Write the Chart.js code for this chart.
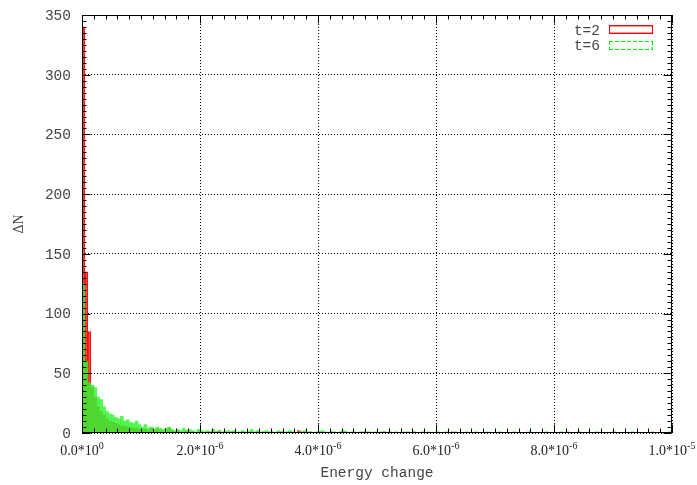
<!DOCTYPE html>
<html>
<head>
<meta charset="utf-8">
<script src="https://cdn.jsdelivr.net/npm/chart.js@4/dist/chart.umd.min.js"></script>
<style>
  html, body { margin: 0; padding: 0; background: #fff; }
  #wrap { width: 697px; height: 485px; }
</style>
</head>
<body>
<div id="wrap"><canvas id="hist" width="697" height="485"></canvas></div>
<script>
// histogram bins: width 5e-8, 200 bins covering 0 .. 1e-5
const binWidth = 5e-8;

const countsT2 = [
  340,135,85,38,30,22,18,15,12,10,9,8,7,6,6,5,5,4,4,3,
  3,3,2,4,2,3,2,1,2,4,2,1,2,1,1,2,1,1,0,1,
  1,0,1,1,0,1,2,0,1,0,1,1,0,0,1,0,1,0,0,1,
  0,1,0,0,1,0,0,1,0,0,1,0,0,2,1,0,0,1,0,0,
  1,0,0,0,1,0,0,0,0,1,0,0,0,0,0,1,0,0,0,0,
  0,0,1,0,0,0,0,0,0,0,0,0,1,0,0,0,0,0,0,0,
  0,0,0,0,0,1,0,0,0,0,0,0,0,0,0,0,0,0,0,0,
  0,0,0,0,0,0,0,0,0,0,0,0,0,0,0,0,0,0,0,0,
  0,0,0,0,1,0,0,0,0,0,0,0,0,0,0,0,0,0,0,0,
  0,0,0,0,0,0,0,0,0,0,0,0,0,0,0,0,0,0,0,0
];

const countsT6 = [
  125,60,42,40,38,30,28,22,18,16,15,13,12,14,10,11,9,8,10,7,
  5,7,4,5,3,5,4,3,4,5,3,2,3,2,4,2,3,2,1,3,
  2,1,2,1,3,1,2,1,1,2,1,2,1,1,2,1,1,3,1,2,
  1,1,2,1,1,0,2,1,1,1,2,1,0,1,1,2,1,1,0,1,
  1,2,1,0,1,1,0,1,2,1,0,1,1,0,1,0,1,1,0,1,
  0,1,1,0,1,0,1,0,0,1,1,0,1,0,0,1,0,1,0,0,
  1,0,0,1,0,0,1,0,0,0,1,0,0,1,0,0,0,1,0,0,
  0,1,0,0,0,0,1,0,0,0,0,1,0,0,0,0,0,1,0,0,
  0,0,1,0,0,0,0,0,1,0,0,0,0,0,1,0,0,0,0,0,
  1,0,0,0,0,0,1,0,0,0,0,0,0,1,0,0,0,0,0,1
];

const seriesNames = ['t=2', 't=6'];
const xTickMantissa = ['0.0*10', '2.0*10', '4.0*10', '6.0*10', '8.0*10', '1.0*10'];
const xTickExponent = ['0', '-6', '-6', '-6', '-6', '-5'];
const yTickLabels = ['0', '50', '100', '150', '200', '250', '300', '350'];

const RED = '#ff0000';
const GREEN = '#00ee00';
const TEXT = '#444444';
const MONO = '"Liberation Mono", "DejaVu Sans Mono", monospace';
const SERIF = '"Liberation Serif", "DejaVu Serif", serif';

function toPoints(counts) {
  return counts.map((c, i) => ({ x: (i + 0.5) * binWidth, y: c }));
}

// frame, inward ticks, labels and key, in gnuplot style
const frameAndLabels = {
  id: 'frameAndLabels',
  afterDatasetsDraw(chart) {
    const { ctx, chartArea: a, scales } = chart;
    const xs = scales.x, ys = scales.y;
    const L = Math.round(a.left) + 0.5, R = Math.round(a.right) - 0.5;
    const T = Math.round(a.top) + 0.5, B = Math.round(a.bottom) - 0.5;
    ctx.save();
    ctx.strokeStyle = '#000';
    ctx.lineWidth = 1;
    ctx.setLineDash([]);
    ctx.beginPath();
    // x ticks: major every 2e-6, minor every 2e-7
    for (let k = 0; k <= 50; k++) {
      const px = Math.round(xs.getPixelForValue(k * 2e-7)) + 0.5;
      const len = k % 10 === 0 ? 8 : 4;
      ctx.moveTo(px, B); ctx.lineTo(px, B - len);
      ctx.moveTo(px, T); ctx.lineTo(px, T + len);
    }
    // y ticks: major every 50, minor every 5
    for (let k = 0; k <= 70; k++) {
      const py = Math.round(ys.getPixelForValue(k * 5)) + 0.5;
      const len = k % 10 === 0 ? 8 : 4;
      ctx.moveTo(L, py); ctx.lineTo(L + len, py);
      ctx.moveTo(R, py); ctx.lineTo(R - len, py);
    }
    ctx.stroke();
    ctx.strokeRect(L, T, R - L, B - T);

    // y tick labels
    ctx.fillStyle = TEXT;
    ctx.font = '14.5px ' + MONO;
    ctx.textAlign = 'right';
    ctx.textBaseline = 'middle';
    yTickLabels.forEach((lab, i) => {
      ctx.fillText(lab, a.left - 11, ys.getPixelForValue(i * 50) + 1);
    });

    // x tick labels with raised exponent
    ctx.fillStyle = '#222';
    ctx.textAlign = 'left';
    ctx.textBaseline = 'alphabetic';
    xTickMantissa.forEach((m, i) => {
      const px = xs.getPixelForValue(i * 2e-6);
      ctx.font = '14px ' + SERIF;
      const wm = ctx.measureText(m).width;
      ctx.font = '10px ' + SERIF;
      const we = ctx.measureText(xTickExponent[i]).width;
      const x0 = px - (wm + we) / 2;
      ctx.font = '14px ' + SERIF;
      ctx.fillText(m, x0, 455);
      ctx.font = '10px ' + SERIF;
      ctx.fillText(xTickExponent[i], x0 + wm, 449);
    });

    // axis titles
    ctx.fillStyle = TEXT;
    ctx.font = '14.5px ' + MONO;
    ctx.textAlign = 'center';
    ctx.fillText('Energy change', (a.left + a.right) / 2, 477);
    ctx.save();
    ctx.translate(19, (a.top + a.bottom) / 2);
    ctx.rotate(-Math.PI / 2);
    ctx.textBaseline = 'middle';
    ctx.font = '14px ' + SERIF;
    ctx.fillText('ΔN', 0, 0);
    ctx.restore();

    // key
    ctx.font = '14.5px ' + MONO;
    ctx.textAlign = 'right';
    ctx.fillText(seriesNames[0], 600, 34.5);
    ctx.fillText(seriesNames[1], 600, 50);
    // red sample box, solid edges
    ctx.fillStyle = 'rgb(255,150,150)';
    ctx.fillRect(610, 26, 42, 1);
    ctx.fillRect(610, 32, 42, 1);
    ctx.fillStyle = RED;
    ctx.fillRect(609, 25, 44, 1);
    ctx.fillRect(609, 33, 44, 1);
    ctx.fillRect(609, 25, 1, 9);
    ctx.fillRect(652, 25, 1, 9);
    // green sample box, dashed edges
    ctx.fillStyle = GREEN;
    for (let x = 609; x < 653; x += 6) {
      const w = Math.min(4, 653 - x);
      ctx.fillRect(x, 41, w, 1);
      ctx.fillRect(x, 49, w, 1);
    }
    for (let y = 41; y < 50; y += 6) {
      const h = Math.min(4, 50 - y);
      ctx.fillRect(609, y, 1, h);
      ctx.fillRect(652, y, 1, h);
    }
    ctx.restore();
  }
};

new Chart(document.getElementById('hist'), {
  type: 'bar',
  data: {
    datasets: [
      {
        label: seriesNames[0],
        data: toPoints(countsT2),
        backgroundColor: 'rgba(255,70,70,0.85)',
        borderColor: RED,
        borderWidth: 1,
        order: 2
      },
      {
        label: seriesNames[1],
        data: toPoints(countsT6),
        backgroundColor: 'rgba(50,245,50,0.82)',
        borderWidth: 0,
        order: 1
      }
    ]
  },
  options: {
    responsive: false,
    animation: false,
    events: [],
    layout: { padding: { top: 15, right: 25, left: 0, bottom: 0 } },
    datasets: {
      bar: { grouped: false, barPercentage: 1, categoryPercentage: 1, borderSkipped: false }
    },
    plugins: { legend: { display: false }, tooltip: { enabled: false } },
    scales: {
      x: {
        type: 'linear',
        min: 0,
        max: 1e-5,
        offset: false,
        ticks: { display: false, stepSize: 2e-6 },
        grid: { color: '#000', lineWidth: 1, drawTicks: false, offset: false },
        border: { display: false, dash: [1, 2] },
        afterFit(s) { s.height = 52; }
      },
      y: {
        min: 0,
        max: 350,
        ticks: { display: false, stepSize: 50 },
        grid: { color: '#000', lineWidth: 1, drawTicks: false },
        border: { display: false, dash: [1, 2] },
        afterFit(s) { s.width = 82; }
      }
    }
  },
  plugins: [frameAndLabels]
});
</script>
</body>
</html>
